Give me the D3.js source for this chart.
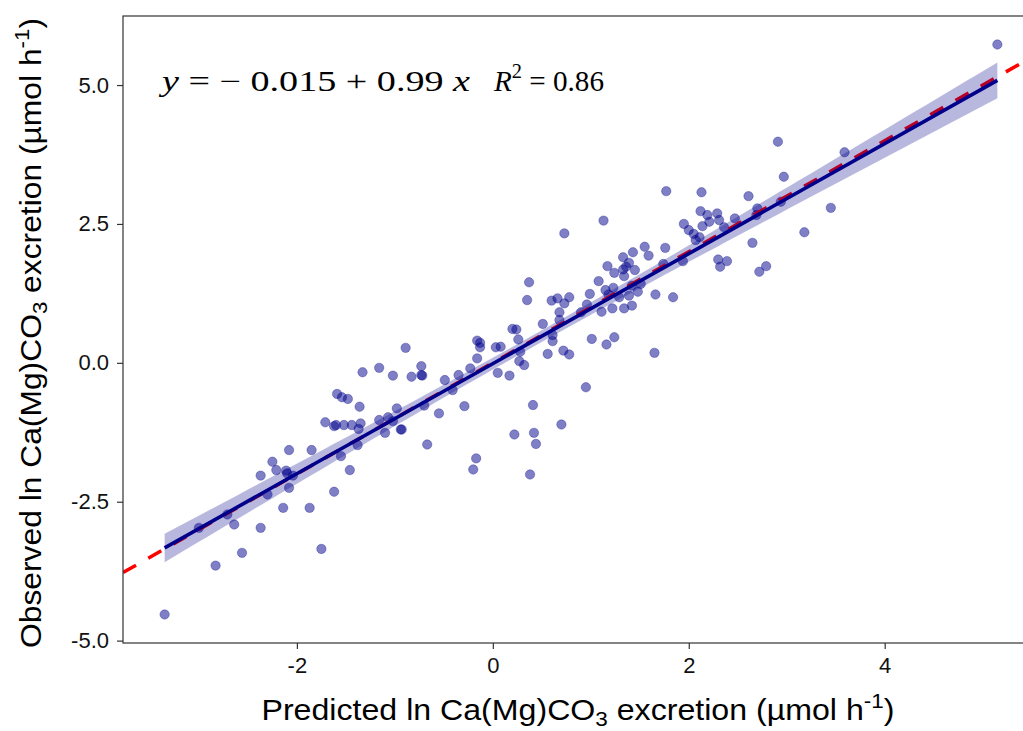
<!DOCTYPE html>
<html>
<head>
<meta charset="utf-8">
<script src="https://cdn.jsdelivr.net/npm/d3@7"></script>
<style>
  html, body { margin: 0; padding: 0; background: #fff; }
  svg { display: block; }
</style>
</head>
<body>
<svg id="chart" width="1023" height="731"></svg>
<script>
// Predicted vs observed ln Ca(Mg)CO3 excretion, one entry per specimen
const predicted = [
  -1.59, -1.54, -1.48, -1.71, -1.62, -1.60, -1.52, -1.44, -2.08, -1.85,
  -2.25, -2.21, -2.11, -2.10, -2.04, -2.37, -1.55, -1.46, -2.08, -2.30,
  -2.14, -1.87, -1.62, -2.71, -2.64, -3.00, -2.37, -2.56, -1.75, -2.83,
  -3.35, 0.37, 0.35, 0.60, 0.66, 0.68, 0.68, 0.51, 0.20, 0.24,
  0.61, 0.61, 0.26, -0.16, -0.13, -0.13, 0.03, 0.08, -0.89, 0.28,
  0.56, -0.16, 0.27, 0.32, -0.73, -1.16, -1.33, -0.23, -1.02, -0.83,
  -0.72, -0.73, 0.05, 0.17, -0.49, -0.35, -0.41, -1.36, -0.29, -0.98,
  -0.70, -0.55, 0.41, -1.16, -1.07, -1.02, -1.35, -1.37, -0.94, -0.93,
  -1.10, 0.22, 0.42, 0.44, 0.70, -1.38, -0.67, -0.17, -0.20, 0.38,
  1.77, 2.13, 2.61, 1.13, 0.73, 2.12, 2.19, 2.29, 2.31, 2.21,
  1.95, 2.00, 2.14, 2.36, 2.47, 2.70, 2.69, 2.05, 2.07, 2.11,
  1.55, 1.76, 1.43, 1.59, 1.33, 1.39, 1.36, 1.33, 1.17, 1.24,
  1.45, 1.34, 1.74, 1.94, 2.30, 2.39, 2.32, 2.65, 2.72, 2.79,
  1.08, 1.51, 1.48, 1.42, 1.15, 1.23, 1.18, 1.29, 1.39, 0.99,
  0.78, 1.66, 1.84, 0.73, 0.96, 1.22, 1.34, 1.42, 1.11, 0.90,
  1.01, 1.16, 1.24, 1.65, 0.72, 0.78, 0.95, 5.15, 2.91, 3.59,
  2.97, 2.94, 3.45, 3.18
];
const observed = [
  -0.56, -0.62, -0.65, -1.07, -1.14, -1.12, -1.12, -1.12, -1.57, -1.57,
  -1.78, -1.93, -1.94, -1.99, -2.03, -2.03, -1.68, -1.93, -2.25, -2.37,
  -2.61, -2.61, -2.32, -2.73, -2.91, -2.97, -2.97, -3.42, -3.35, -3.65,
  -4.53, 1.45, 1.13, 1.12, 1.16, 0.91, 0.77, 0.70, 0.61, 0.60,
  0.50, 0.39, 0.42, 0.40, 0.36, 0.28, 0.28, 0.29, 0.27, 0.20,
  0.16, 0.08, 0.03, -0.04, -0.06, -0.09, -0.17, -0.10, -0.23, -0.25,
  -0.23, -0.22, -0.18, -0.23, -0.31, -0.22, -0.49, -0.79, -0.78, -0.82,
  -0.77, -0.91, -0.76, -1.03, -0.98, -1.05, -1.09, -1.19, -1.20, -1.20,
  -1.26, -1.29, -1.26, -1.46, -1.11, -1.48, -1.47, -1.72, -1.92, -2.01,
  3.09, 3.07, 3.00, 2.56, 2.33, 2.73, 2.66, 2.69, 2.57, 2.54,
  2.50, 2.39, 2.46, 2.44, 2.60, 2.78, 2.66, 2.32, 2.21, 2.26,
  2.09, 2.07, 1.99, 1.93, 1.90, 1.80, 1.73, 1.68, 1.74, 1.62,
  1.67, 1.56, 1.78, 1.83, 1.86, 1.83, 1.73, 2.16, 1.64, 1.74,
  1.47, 1.42, 1.28, 1.39, 1.31, 1.35, 1.23, 1.18, 1.21, 1.24,
  1.18, 1.23, 1.18, 1.07, 1.05, 0.98, 0.98, 1.03, 0.92, 0.91,
  0.43, 0.33, 0.46, 0.18, 0.22, 0.15, -0.44, 5.73, 3.98, 3.79,
  3.35, 2.90, 2.79, 2.35
];

// Fitted model as reported on the plot
const intercept = -0.015;
const slope = 0.99;
const rSquared = 0.86;

const xTicks = [-2, 0, 2, 4];
const yTicks = [-5.0, -2.5, 0.0, 2.5, 5.0];

const points = predicted.map((p, i) => ({ x: p, y: observed[i] }));

const svg = d3.select("#chart");
const panelLeft = 123, panelRight = 1039, panelTop = 16, panelBottom = 643;

const xExtent = d3.extent(predicted), yExtent = d3.extent(observed);
const xPad = (xExtent[1] - xExtent[0]) * 0.05;
const yPad = (yExtent[1] - yExtent[0]) * 0.05;
const x = d3.scaleLinear().domain([xExtent[0] - xPad, xExtent[1] + xPad]).range([panelLeft, panelRight]);
const y = d3.scaleLinear().domain([yExtent[0] - yPad, yExtent[1] + yPad]).range([panelBottom, panelTop]);

svg.append("defs").append("clipPath").attr("id", "panel")
  .append("rect").attr("x", panelLeft).attr("y", panelTop)
  .attr("width", panelRight - panelLeft).attr("height", panelBottom - panelTop);

const panel = svg.append("g").attr("clip-path", "url(#panel)");

// Observations
panel.append("g").selectAll("circle").data(points).join("circle")
  .attr("cx", d => x(d.x)).attr("cy", d => y(d.y)).attr("r", 4.7)
  .attr("fill", "#00008B").attr("fill-opacity", 0.5)
  .attr("stroke", "#00008B").attr("stroke-opacity", 0.5).attr("stroke-width", 0.6);

// 1:1 reference line
const dom = x.domain();
panel.append("line")
  .attr("x1", x(dom[0])).attr("y1", y(dom[0]))
  .attr("x2", x(dom[1])).attr("y2", y(dom[1]))
  .attr("stroke", "red").attr("stroke-width", 3.5)
  .attr("stroke-dasharray", "15,14");

// Confidence band of the fitted line
const n = points.length;
const xbar = d3.mean(predicted);
const sxx = d3.sum(predicted, v => (v - xbar) ** 2);
const sse = d3.sum(points, d => (d.y - (intercept + slope * d.x)) ** 2);
const s = Math.sqrt(sse / (n - 2));
const tCrit = 1.974;
const fitXs = d3.range(0, 81).map(i => xExtent[0] + (xExtent[1] - xExtent[0]) * i / 80);
const band = fitXs.map(v => {
  const yh = intercept + slope * v;
  const h = tCrit * s * Math.sqrt(1 / n + (v - xbar) ** 2 / sxx);
  return { x: v, lo: yh - h, hi: yh + h };
});
panel.append("path").datum(band)
  .attr("d", d3.area().x(d => x(d.x)).y0(d => y(d.lo)).y1(d => y(d.hi)))
  .attr("fill", "#00008B").attr("fill-opacity", 0.28);

panel.append("line")
  .attr("x1", x(xExtent[0])).attr("y1", y(intercept + slope * xExtent[0]))
  .attr("x2", x(xExtent[1])).attr("y2", y(intercept + slope * xExtent[1]))
  .attr("stroke", "#00008B").attr("stroke-width", 3.6);

// Panel frame
svg.append("rect").attr("x", panelLeft).attr("y", panelTop)
  .attr("width", panelRight - panelLeft).attr("height", panelBottom - panelTop)
  .attr("fill", "none").attr("stroke", "#333").attr("stroke-width", 1.2);

// Axes
const xAxis = svg.append("g").attr("transform", `translate(0,${panelBottom})`)
  .call(d3.axisBottom(x).tickValues(xTicks).tickFormat(d => String(d)).tickSize(6).tickPadding(8));
const yAxis = svg.append("g").attr("transform", `translate(${panelLeft},0)`)
  .call(d3.axisLeft(y).tickValues(yTicks).tickFormat(d => d.toFixed(1)).tickSize(6).tickPadding(8));
[xAxis, yAxis].forEach(g => {
  g.select(".domain").remove();
  g.selectAll(".tick line").attr("stroke", "#333").attr("stroke-width", 1.2);
  g.selectAll(".tick text").attr("fill", "#111")
    .style("font-family", "'Liberation Sans', Arial, sans-serif").style("font-size", "22px");
});

// Axis titles
function axisTitle(t, first) {
  t.style("font-family", "'Liberation Sans', Arial, sans-serif").style("font-size", "30px")
    .attr("fill", "#000").attr("text-anchor", "middle");
  t.append("tspan").text(first + " ln Ca(Mg)CO");
  t.append("tspan").attr("dy", 6).style("font-size", "21px").text("3");
  t.append("tspan").attr("dy", -6).text(" excretion (\u00B5mol h");
  t.append("tspan").attr("dy", -12).style("font-size", "21px").text("-1");
  t.append("tspan").attr("dy", 12).text(")");
}
const xt = svg.append("text").attr("x", 578).attr("y", 720)
  .attr("textLength", 633).attr("lengthAdjust", "spacingAndGlyphs");
axisTitle(xt, "Predicted");
const yt = svg.append("text").attr("transform", "translate(41,333) rotate(-90)")
  .attr("textLength", 630).attr("lengthAdjust", "spacingAndGlyphs");
axisTitle(yt, "Observed");

// Regression annotation
const serif = "'Liberation Serif', 'Times New Roman', serif";
const eq = svg.append("text").attr("x", 162).attr("y", 91)
  .attr("textLength", 308).attr("lengthAdjust", "spacingAndGlyphs")
  .style("font-family", serif).style("font-size", "29px").attr("fill", "#000");
eq.append("tspan").style("font-style", "italic").text("y");
eq.append("tspan").text(` = \u2212 ${Math.abs(intercept)} + ${slope} `);
eq.append("tspan").style("font-style", "italic").text("x");

const r2 = svg.append("text").attr("x", 494).attr("y", 91)
  .attr("textLength", 110).attr("lengthAdjust", "spacingAndGlyphs")
  .style("font-family", serif).style("font-size", "30px").attr("fill", "#000");
r2.append("tspan").style("font-style", "italic").text("R");
r2.append("tspan").attr("dy", -13).style("font-size", "21px").text("2");
r2.append("tspan").attr("dy", 13).text(` = ${rSquared}`);
</script>
</body>
</html>
